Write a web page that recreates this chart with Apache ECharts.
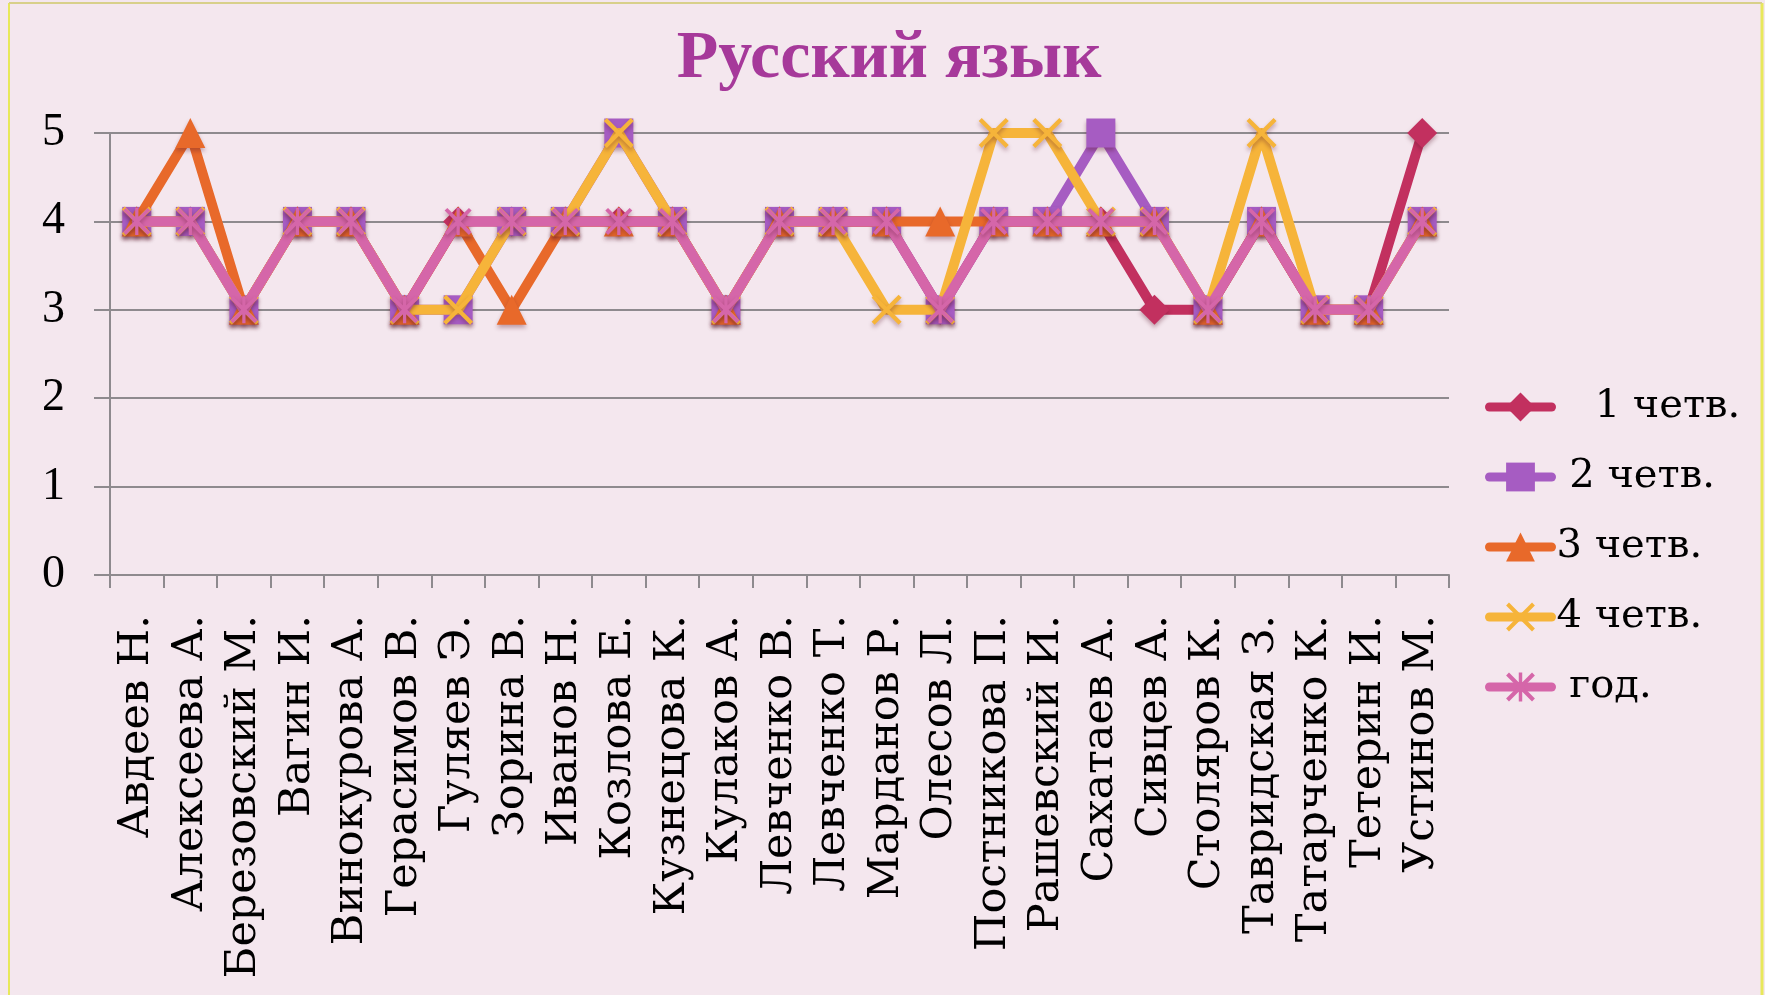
<!DOCTYPE html>
<html>
<head>
<meta charset="utf-8">
<script src="https://cdn.jsdelivr.net/npm/echarts@6/dist/echarts.min.js"></script>
<style>
  html, body { margin: 0; padding: 0; background: #F4E7EE; }
  #chart { width: 1765px; height: 995px; }
</style>
</head>
<body>
<div id="chart"></div>
<script>
const titleText = 'Русский язык';
const categories = [
  'Авдеев Н.', 'Алексеева А.', 'Березовский М.', 'Вагин И.', 'Винокурова А.',
  'Герасимов В.', 'Гуляев Э.', 'Зорина В.', 'Иванов Н.', 'Козлова Е.',
  'Кузнецова К.', 'Кулаков А.', 'Левченко В.', 'Левченко Т.', 'Марданов Р.',
  'Олесов Л.', 'Постникова П.', 'Рашевский И.', 'Сахатаев А.', 'Сивцев А.',
  'Столяров К.', 'Тавридская З.', 'Татарченко К.', 'Тетерин И.', 'Устинов М.'
];
const seriesNames = ['   1 четв.', ' 2 четв.', '3 четв.', '4 четв.', ' год.'];
const q1 = [4,4,3,4,4,3,4,4,4,4,4,3,4,4,4,3,4,4,4,3,3,4,3,3,5];
const q2 = [4,4,3,4,4,3,3,4,4,5,4,3,4,4,4,3,4,4,5,4,3,4,3,3,4];
const q3 = [4,5,3,4,4,3,4,3,4,4,4,3,4,4,4,4,4,4,4,4,3,4,3,3,4];
const q4 = [4,4,3,4,4,3,3,4,4,5,4,3,4,4,3,3,5,5,4,4,3,5,3,3,4];
const yearVals = [4,4,3,4,4,3,4,4,4,4,4,3,4,4,4,3,4,4,4,4,3,4,3,3,4];
const yTicks = [0, 1, 2, 3, 4, 5];

const colors = ['#C2305F', '#A65CC2', '#E8692A', '#F6B43A', '#D566A9'];
const crossPath = 'path://M0,1 L1,0 L10,9 L9,10 Z M9,0 L10,1 L1,10 L0,9 Z';
const starPath = 'path://M0,1 L1,0 L10,9 L9,10 Z M9,0 L10,1 L1,10 L0,9 Z M4.4,0 L5.6,0 L5.6,10 L4.4,10 Z';
const symbols = ['diamond', 'rect', 'triangle', crossPath, starPath];
const symbolSizes = [30, 29, 30, 30, 27];
const dataSets = [q1, q2, q3, q4, yearVals];

const chart = echarts.init(document.getElementById('chart'), null, { renderer: 'canvas' });
const serif = '"Liberation Serif", serif';
const wideSerif = '"DejaVu Serif", serif';

const series = dataSets.map((d, i) => ({
  name: seriesNames[i],
  type: 'line',
  data: d,
  symbol: symbols[i],
  symbolSize: symbolSizes[i],
  showAllSymbol: true,
  z: 2 + i,
  lineStyle: { color: colors[i], width: 10, cap: 'round', join: 'round' },
  itemStyle: {
    color: colors[i],
    shadowColor: 'rgba(90,20,40,0.35)',
    shadowBlur: 4,
    shadowOffsetY: 3
  },
  emphasis: { disabled: true },
  animation: false
}));

chart.setOption({
  backgroundColor: '#F4E7EE',
  animation: false,
  title: {
    text: titleText,
    left: 884,
    textAlign: 'center',
    top: 20,
    textStyle: {
      fontFamily: serif,
      fontWeight: 'bold',
      fontSize: 68,
      color: '#A6399A'
    }
  },
  legend: {
    orient: 'vertical',
    left: 1485,
    top: 382,
    padding: 0,
    itemWidth: 62,
    itemHeight: 36,
    itemGap: 20,
    lineStyle: { width: 9, cap: 'round' },
    textStyle: { fontFamily: wideSerif, fontSize: 40, lineHeight: 50, color: '#000' },
    data: seriesNames
  },
  grid: { left: 110, right: 1765 - 1449, top: 133, bottom: 995 - 575, containLabel: false },
  xAxis: {
    type: 'category',
    data: categories,
    boundaryGap: true,
    axisLine: { show: true, lineStyle: { color: '#8E8A8E', width: 2 } },
    axisTick: { show: true, length: 13, lineStyle: { color: '#8E8A8E', width: 2 } },
    axisLabel: {
      rotate: 90,
      interval: 0,
      margin: 40,
      fontFamily: wideSerif,
      fontSize: 43,
      color: '#000'
    }
  },
  yAxis: {
    type: 'value',
    min: yTicks[0],
    max: yTicks[yTicks.length - 1],
    interval: 1,
    axisLine: { show: true, lineStyle: { color: '#8E8A8E', width: 2 } },
    axisTick: { show: true, length: 16, lineStyle: { color: '#8E8A8E', width: 2 } },
    splitLine: { show: true, lineStyle: { color: '#8E8A8E', width: 2 } },
    axisLabel: {
      margin: 45,
      fontFamily: serif,
      fontSize: 46,
      color: '#000'
    }
  },
  graphic: [
    { type: 'line', shape: { x1: 9, y1: 3, x2: 9, y2: 995 }, style: { stroke: '#E8E85A', lineWidth: 2 }, silent: true },
    { type: 'line', shape: { x1: 1762, y1: 3, x2: 1762, y2: 995 }, style: { stroke: '#E8E85A', lineWidth: 3 }, silent: true },
    { type: 'line', shape: { x1: 9, y1: 3, x2: 1762, y2: 3 }, style: { stroke: '#D8D08A', lineWidth: 2 }, silent: true }
  ],
  series: series
});
</script>
</body>
</html>
